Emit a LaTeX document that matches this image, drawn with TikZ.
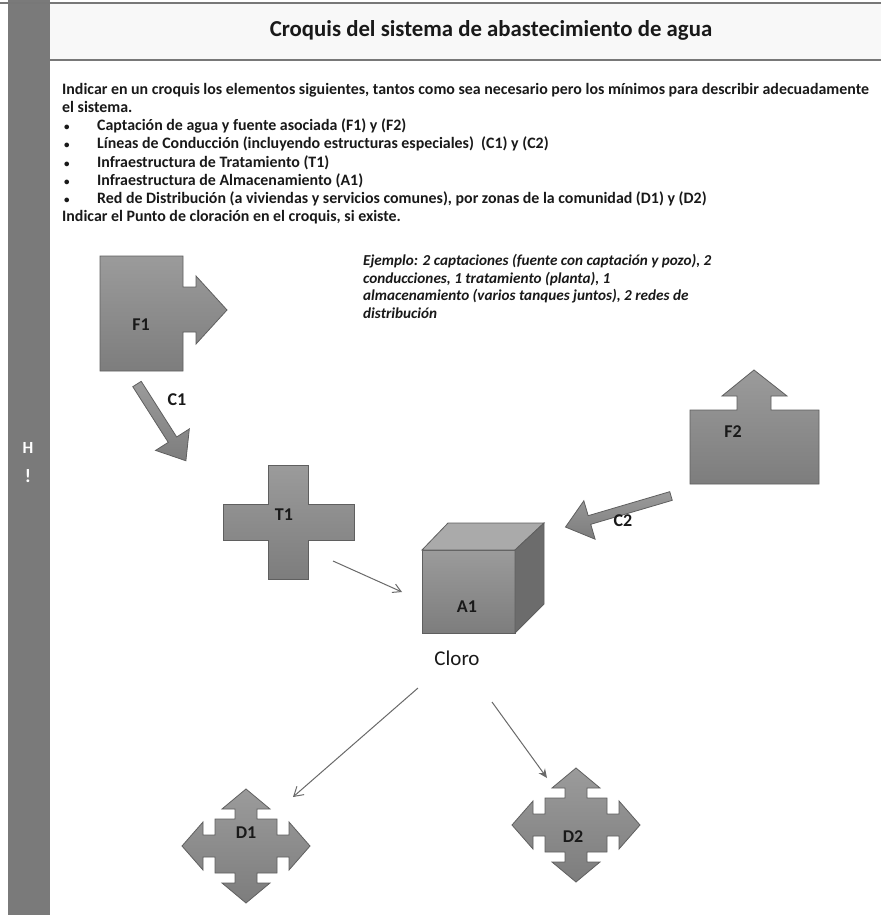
\documentclass[tikz,border=0pt]{standalone}
\usepackage{fontspec}
\setmainfont{Carlito}
\usetikzlibrary{arrows.meta}
\definecolor{barc}{RGB}{122,122,122}
\definecolor{hdrbg}{RGB}{248,248,248}
\definecolor{hdrline}{RGB}{120,120,120}
\definecolor{shtop}{RGB}{155,155,155}
\definecolor{shbot}{RGB}{125,125,125}
\definecolor{shedge}{RGB}{95,95,95}
\definecolor{txtc}{RGB}{25,25,25}
\definecolor{conn}{RGB}{105,105,105}
\tikzset{
  txt/.style={anchor=base west, inner sep=0pt, text=txtc, font=\fontsize{15.9}{18}\selectfont\bfseries},
  bul/.style={anchor=base west, inner sep=0pt, text=txtc, font=\fontsize{11}{18}\selectfont\bfseries},
  extxt/.style={anchor=base west, inner sep=0pt, text=txtc, font=\fontsize{15.2}{18}\selectfont\bfseries\itshape},
  lbl/.style={inner sep=0pt, text=txtc, font=\fontsize{18}{20}\selectfont\bfseries},
  blk/.style={top color=shtop, bottom color=shbot, draw=shedge, line width=0.8pt},
  thinarrow/.style={draw=conn, line width=1pt},
  quadarrow/.pic={
    \path[blk] (0,-57) -- (24,-37) -- (11,-37) -- (11,-27) -- (31,-27) -- (31,-11) -- (43,-11) -- (43,-24)
      -- (64,0) -- (43,24) -- (43,11) -- (31,11) -- (31,27) -- (11,27) -- (11,37) -- (24,37)
      -- (0,57) -- (-24,37) -- (-11,37) -- (-11,27) -- (-31,27) -- (-31,11) -- (-43,11) -- (-43,24)
      -- (-64,0) -- (-43,-24) -- (-43,-11) -- (-31,-11) -- (-31,-27) -- (-11,-27) -- (-11,-37) -- (-24,-37) -- cycle;
  }
}
\begin{document}
\begin{tikzpicture}[x=1pt,y=-1pt]
\useasboundingbox (0,0) rectangle (881,915);
\fill[white] (0,0) rectangle (881,915);
% left bar
\fill[barc] (8,0) rectangle (50,915);
\node[inner sep=0pt, text=white, font=\fontsize{17}{18}\selectfont\bfseries] (hmark) at (28,448) {H};
\node[inner sep=0pt, text=white, font=\fontsize{19}{20}\selectfont\bfseries] (exmark) at (28,476) {!};
% header
\fill[hdrbg] (50,4) rectangle (881,60);
\draw[hdrline, line width=1.5pt] (0,3) -- (881,3);
\draw[hdrline, line width=2pt] (50,60) -- (881,60);
\node[inner sep=0pt, text=txtc, font=\fontsize{22.8}{26}\selectfont\bfseries] (title) at (491,30) {Croquis del sistema de abastecimiento de agua};
% instructions
\node[txt] (l1) at (62,95) {Indicar en un croquis los elementos siguientes, tantos como sea necesario pero los mínimos para describir adecuadamente};
\node[txt] (l2) at (62,113) {el sistema.};
\node[bul] (b1) at (64,131) {•};
\node[bul] (b2) at (64,149) {•};
\node[bul] (b3) at (64,167) {•};
\node[bul] (b4) at (64,185) {•};
\node[bul] (b5) at (64,203) {•};
\node[txt] (l3) at (97,131) {Captación de agua y fuente asociada (F1) y (F2)};
\node[txt] (l4) at (97,149) {Líneas de Conducción (incluyendo estructuras especiales)\ \ (C1) y (C2)};
\node[txt] (l5) at (97,167) {Infraestructura de Tratamiento (T1)};
\node[txt] (l6) at (97,185) {Infraestructura de Almacenamiento (A1)};
\node[txt] (l7) at (97,203) {Red de Distribución (a viviendas y servicios comunes), por zonas de la comunidad (D1) y (D2)};
\node[txt] (l8) at (62,221) {Indicar el Punto de cloración en el croquis, si existe.};
% example
\node[extxt] (e1) at (363,265) {Ejemplo: 2 captaciones (fuente con captación y pozo), 2};
\node[extxt] (e2) at (363,283) {conducciones, 1 tratamiento (planta), 1};
\node[extxt] (e3) at (363,300) {almacenamiento (varios tanques juntos), 2 redes de};
\node[extxt] (e4) at (363,318) {distribución};
% F1
\path[blk] (100,256) -- (183,256) -- (183,287) -- (196,287) -- (196,276) -- (227,310) -- (196,344) -- (196,332)
  -- (183,332) -- (183,371) -- (100,371) -- cycle;
\node[lbl] (f1) at (141,325) {F1};
% C1
\begin{scope}[shift={(137,384)}, rotate=-57.5]
\path[blk] (0,-5) -- (66,-5) -- (66,-20) -- (91,0) -- (66,20) -- (66,5) -- (0,5) -- cycle;
\end{scope}
\node[lbl] (c1) at (177,400) {C1};
% F2
\path[blk] (690,410) -- (737,410) -- (737,396) -- (722,396) -- (754,370) -- (787,396) -- (771,396) -- (771,410)
  -- (819,410) -- (819,484) -- (690,484) -- cycle;
\node[lbl] (f2) at (733,432) {F2};
% C2
\begin{scope}[shift={(671,496)}, rotate=196.4]
\path[blk] (0,-4.5) -- (85,-4.5) -- (85,-20) -- (110,0) -- (85,20) -- (85,4.5) -- (0,4.5) -- cycle;
\end{scope}
\node[lbl] (c2) at (623,521) {C2};
% T1
\path[blk] (268,465) -- (308,465) -- (308,504) -- (354,504) -- (354,540) -- (308,540) -- (308,579) -- (268,579)
  -- (268,540) -- (223,540) -- (223,504) -- (268,504) -- cycle;
\node[lbl] (t1) at (284,515) {T1};
% A1 cube
\path[blk] (422,550) rectangle (515,633);
\path[draw=shedge, line width=0.8pt, fill={rgb,255:red,170;green,170;blue,170}] (422,550) -- (448,523) -- (544,523) -- (515,550) -- cycle;
\path[draw=shedge, line width=0.8pt, fill={rgb,255:red,108;green,108;blue,108}] (515,550) -- (544,523) -- (544,604) -- (515,633) -- cycle;
\node[lbl] (a1) at (467,607) {A1};
\node[inner sep=0pt, text=txtc, font=\fontsize{21}{24}\selectfont] (cloro) at (457,658) {Cloro};
% D1, D2
\pic at (246,846) {quadarrow};
\node[lbl] (d1) at (246,833) {D1};
\pic at (576,825) {quadarrow};
\node[lbl] (d2) at (573,837) {D2};
% thin connectors
\coordinate (t1out) at (333,561);
\coordinate (a1in) at (402,592);
\coordinate (a1outl) at (418,688);
\coordinate (d1in) at (293,797);
\coordinate (a1outr) at (492,702);
\coordinate (d2in) at (547,778);
\draw[thinarrow, -{Straight Barb[length=8pt,width=9pt]}] (t1out) -- (a1in);
\draw[thinarrow, -{Straight Barb[length=9pt,width=11pt]}] (a1outl) -- (d1in);
\draw[thinarrow, -{Stealth[length=9pt,width=8pt]}] (a1outr) -- (d2in);
\end{tikzpicture}
\end{document}
